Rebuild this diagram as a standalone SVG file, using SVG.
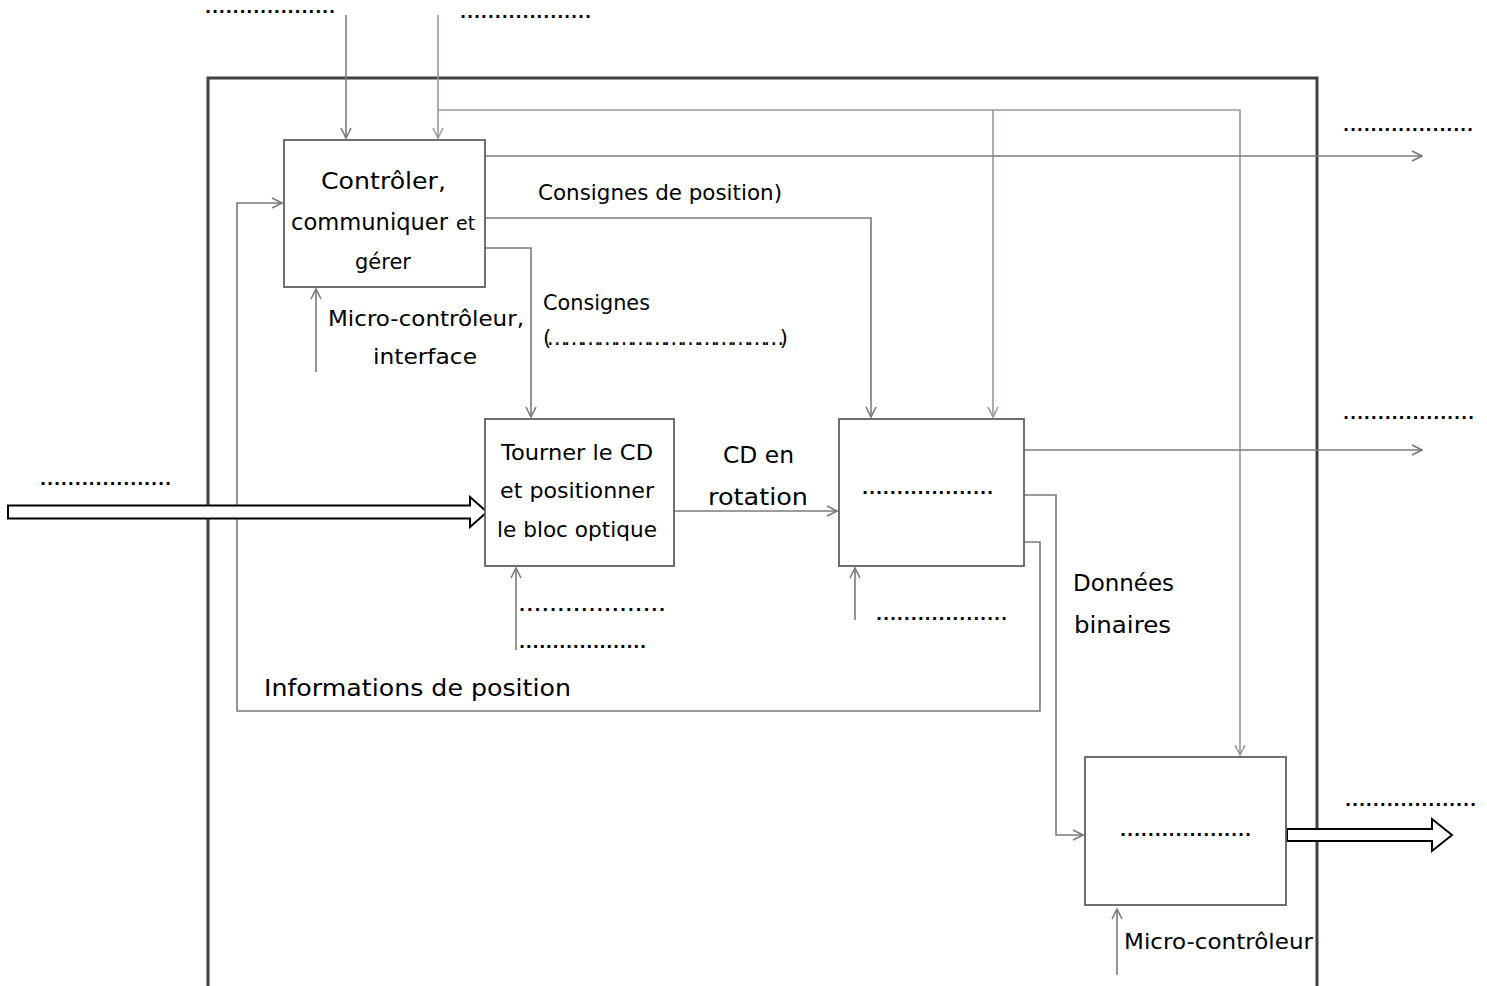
<svg xmlns="http://www.w3.org/2000/svg" width="1487" height="986" viewBox="0 0 1487 986">
<style>
text{font-family:"DejaVu Sans","Open Sans",sans-serif;fill:#000}
.t{font-size:23px}
.s{font-size:21px}
.d{font-size:16px;font-weight:bold;font-family:"DejaVu Sans",sans-serif}
.box{fill:#fff;stroke:#606060;stroke-width:1.8}
.c{fill:none;stroke:#7a7a7a;stroke-width:1.6}
.p{fill:none;stroke:#a09696;stroke-width:1.6}
.big{fill:#fff;stroke:#000;stroke-width:2}
</style>
<defs>
<marker id="a" viewBox="0 0 12 12" refX="11" refY="6" markerWidth="12" markerHeight="12" markerUnits="userSpaceOnUse" orient="auto">
<path d="M1,1 L11,6 L1,11" fill="none" stroke="#7a7a7a" stroke-width="1.6"/>
</marker>
<marker id="ap" viewBox="0 0 12 12" refX="11" refY="6" markerWidth="12" markerHeight="12" markerUnits="userSpaceOnUse" orient="auto">
<path d="M1,1 L11,6 L1,11" fill="none" stroke="#a09696" stroke-width="1.6"/>
</marker>
</defs>
<rect width="1487" height="986" fill="#fff"/>
<path d="M208,990 V78 H1317 V990" fill="none" stroke="#404040" stroke-width="3"/>

<g id="connectors">
<path class="c" d="M346,15 V138" marker-end="url(#a)"/>
<path class="p" d="M438,15 V138" marker-end="url(#ap)"/>
<path class="p" d="M438,110 H1240 V755" marker-end="url(#ap)"/>
<path class="p" d="M993,110 V417" marker-end="url(#ap)"/>
<path class="c" d="M485,156 H1422" marker-end="url(#a)"/>
<path class="c" d="M485,218 H871 V417" marker-end="url(#a)"/>
<path class="c" d="M485,248 H531 V417" marker-end="url(#a)"/>
<path class="c" d="M316,372 V289" marker-end="url(#a)"/>
<path class="c" d="M1024,542 H1040 V711 H237 V203 H282" marker-end="url(#a)"/>
<path class="c" d="M674,511 H837" marker-end="url(#a)"/>
<path class="c" d="M516,650 V568" marker-end="url(#a)"/>
<path class="c" d="M855,620 V568" marker-end="url(#a)"/>
<path class="c" d="M1024,450 H1422" marker-end="url(#a)"/>
<path class="c" d="M1024,495 H1056 V835 H1083" marker-end="url(#a)"/>
<path class="c" d="M1117,975 V909" marker-end="url(#a)"/>
<path class="big" d="M8,505.5 H470 V497 L487,512 L470,527 V518.5 H8 Z"/>
<path class="big" d="M1287,829 H1432 V819 L1452,835 L1432,851 V841 H1287 Z"/>
</g>

<g id="n1">
<rect class="box" x="284" y="140" width="201" height="147"/>
<text class="t" x="321" y="189" textLength="125" lengthAdjust="spacingAndGlyphs">Contrôler,</text>
<text class="t" x="291" y="230" textLength="157" lengthAdjust="spacingAndGlyphs">communiquer</text>
<text x="456" y="230" style="font-size:19px">et</text>
<text x="355" y="269" style="font-size:21px" textLength="56" lengthAdjust="spacingAndGlyphs">gérer</text>
</g>
<g id="n2">
<rect class="box" x="485" y="419" width="189" height="147"/>
<text class="s" x="577" y="460" text-anchor="middle" textLength="152" lengthAdjust="spacingAndGlyphs">Tourner le CD</text>
<text class="s" x="577" y="498" text-anchor="middle" textLength="154" lengthAdjust="spacingAndGlyphs">et positionner</text>
<text class="s" x="577" y="537" text-anchor="middle" textLength="160" lengthAdjust="spacingAndGlyphs">le bloc optique</text>
</g>
<g id="n3">
<rect class="box" x="839" y="419" width="185" height="147"/>
<text class="d" x="862" y="494" textLength="131" lengthAdjust="spacing">...................</text>
</g>
<g id="n4">
<rect class="box" x="1085" y="757" width="201" height="148"/>
<text class="d" x="1120" y="836" textLength="131" lengthAdjust="spacing">...................</text>
</g>

<g id="labels">
<text class="d" x="205" y="13" textLength="130" lengthAdjust="spacing">...................</text>
<text class="d" x="460" y="18" textLength="131" lengthAdjust="spacing">...................</text>
<text class="d" x="1343" y="131" textLength="130" lengthAdjust="spacing">...................</text>
<text class="d" x="1343" y="419" textLength="131" lengthAdjust="spacing">...................</text>
<text class="d" x="40" y="485" textLength="131" lengthAdjust="spacing">...................</text>
<text class="d" x="519" y="611" textLength="146" lengthAdjust="spacing">...................</text>
<text class="d" x="519" y="648" textLength="127" lengthAdjust="spacing">...................</text>
<text class="d" x="876" y="620" textLength="131" lengthAdjust="spacing">...................</text>
<text class="d" x="1345" y="806" textLength="131" lengthAdjust="spacing">...................</text>
<text class="s" x="538" y="200" textLength="244" lengthAdjust="spacingAndGlyphs">Consignes de position)</text>
<text class="s" x="543" y="310" textLength="107" lengthAdjust="spacingAndGlyphs">Consignes</text>
<text class="s" x="543" y="345" textLength="245" lengthAdjust="spacing">(……………………………………)</text>
<text class="s" x="328" y="326" textLength="196" lengthAdjust="spacingAndGlyphs">Micro-contrôleur,</text>
<text class="s" x="373" y="364" textLength="104" lengthAdjust="spacingAndGlyphs">interface</text>
<text class="t" x="723" y="463" textLength="71" lengthAdjust="spacingAndGlyphs">CD en</text>
<text class="t" x="708" y="505" textLength="100" lengthAdjust="spacingAndGlyphs">rotation</text>
<text class="t" x="264" y="696" textLength="307" lengthAdjust="spacingAndGlyphs">Informations de position</text>
<text class="t" x="1073" y="591" textLength="101" lengthAdjust="spacingAndGlyphs">Données</text>
<text class="t" x="1074" y="633" textLength="97" lengthAdjust="spacingAndGlyphs">binaires</text>
<text class="s" x="1124" y="949" textLength="189" lengthAdjust="spacingAndGlyphs">Micro-contrôleur</text>
</g>
</svg>
